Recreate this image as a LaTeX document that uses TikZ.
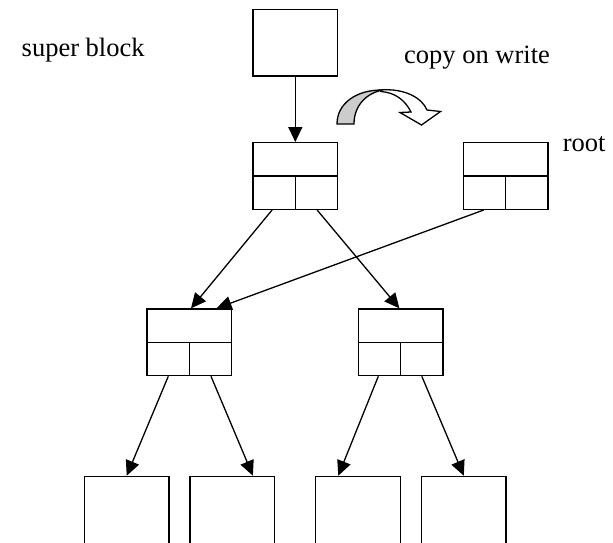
\documentclass[tikz,border=0pt]{standalone}
\usepackage{fontspec}
\setmainfont{Liberation Serif}
\usetikzlibrary{arrows.meta}

\tikzset{
  block/.style={draw, line width=1.35pt, minimum width=84.6pt, minimum height=66.6pt, inner sep=0pt},
  leafblock/.style={block, minimum height=67.5pt, anchor=north},
  label/.style={inner sep=0pt, font=\fontsize{26.5}{30}\selectfont},
  link/.style={line width=1.3pt, -{Triangle[length=15pt,width=14pt]}},
  divider/.style={line width=1.35pt},
  cow/.style={line width=1.3pt, line join=miter}
}

\begin{document}
\begin{tikzpicture}[x=1pt, y=-1pt]
  \useasboundingbox (0,0) rectangle (613,542);

  % super block and the two versions of the root
  \node[block] (sb) at (295.3,42.7) {};
  \node[block] (oldroot) at (295.3,176) {};
  \node[block] (newroot) at (505.8,176) {};

  % interior nodes
  \node[block] (midL) at (189.4,342.3) {};
  \node[block] (midR) at (400.6,342.3) {};

  % leaves
  \node[leafblock] (leafA) at (126.7,475.7) {};
  \node[leafblock] (leafB) at (232.2,475.7) {};
  \node[leafblock] (leafC) at (358.1,475.7) {};
  \node[leafblock] (leafD) at (463.8,475.7) {};

  % key/pointer fields inside the tree nodes
  \foreach \n in {oldroot,newroot,midL,midR}{
    \draw[divider] (\n.west) -- (\n.east);
    \draw[divider] (\n.center) -- (\n.south);
  }

  % labels
  \node[label, anchor=base west] (sblabel) at (21.5,56.7) {super block};
  \node[label, anchor=base west] (cowlabel) at (404,63.3) {copy on write};
  \node[label, anchor=base west] (rootlabel) at (562.7,151.7) {root};

  % pointers
  \draw[link] (sb.south) -- (oldroot.north);
  \draw[link] ([xshift=-23.2pt]oldroot.south) -- ([xshift=1.6pt]midL.north);
  \draw[link] ([xshift=21.8pt]oldroot.south) -- ([xshift=-1.2pt]midR.north);
  \draw[link] ([xshift=-22.1pt]newroot.south) -- ([xshift=27.1pt]midL.north);
  \draw[link] ([xshift=-21.1pt]midL.south) -- (leafA.north);
  \draw[link] ([xshift=21.6pt]midL.south) -- ([xshift=20.7pt]leafB.north);
  \draw[link] ([xshift=-22.3pt]midR.south) -- ([xshift=-19.8pt]leafC.north);
  \draw[link] ([xshift=21.2pt]midR.south) -- (leafD.north);

  % curved "copy on write" arrow: shaded back of the ribbon
  \draw[cow, fill=gray!40]
    (337,124) .. controls (337,103) and (357,89.5) .. (383,90)
    .. controls (366,93) and (354,106) .. (354,124) -- cycle;
  % front of the ribbon with its open arrow head
  \draw[cow, fill=white]
    (380,90) .. controls (405,88) and (422,98) .. (427,110)
    -- (440.5,111.5) -- (421.5,125) -- (400,112.5) -- (411,112)
    .. controls (405,100) and (395,92.5) .. (381,91.5) -- cycle;
\end{tikzpicture}
\end{document}
